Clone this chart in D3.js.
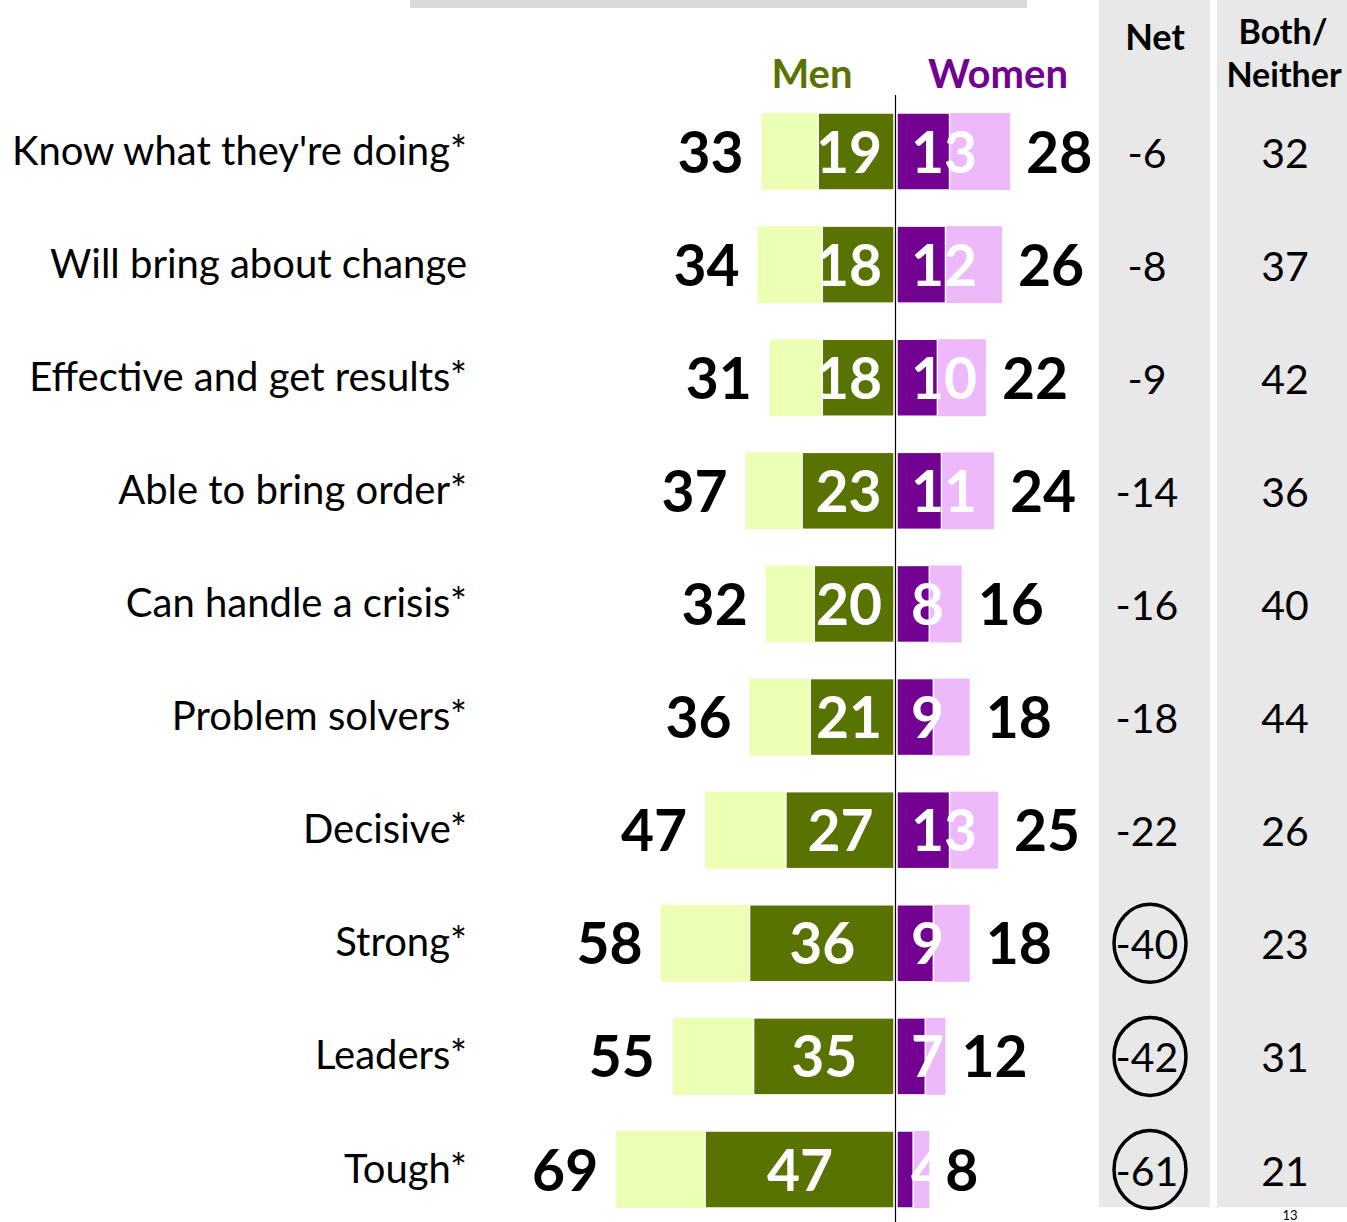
<!DOCTYPE html>
<html>
<head>
<meta charset="utf-8">
<script src="https://cdn.jsdelivr.net/npm/d3@7"></script>
<style>
  body { margin: 0; background: #fff; }
  svg { display: block; }
</style>
</head>
<body>
<svg id="chart" width="1347" height="1222"></svg>
<script>
const labels = [
  "Know what they're doing*", "Will bring about change", "Effective and get results*",
  "Able to bring order*", "Can handle a crisis*", "Problem solvers*",
  "Decisive*", "Strong*", "Leaders*", "Tough*"
];
const menTotal    = [33, 34, 31, 37, 32, 36, 47, 58, 55, 69];
const menStrong   = [19, 18, 18, 23, 20, 21, 27, 36, 35, 47];
const womenStrong = [13, 12, 10, 11, 8, 9, 13, 9, 7, 4];
const womenTotal  = [28, 26, 22, 24, 16, 18, 25, 18, 12, 8];
const netValues   = [-6, -8, -9, -14, -16, -18, -22, -40, -42, -61];
const bothNeither = [32, 37, 42, 36, 40, 44, 26, 23, 31, 21];
const circled = [-40, -42, -61];

const svg = d3.select("#chart");
const font = "Lato, 'Open Sans', sans-serif";

const x = d3.scaleLinear().domain([-70, 30]).range([612.2, 1016.2]);
const y = d3.scalePoint().domain(labels).range([151.5, 1169.5]);
const barH = 77;

const colors = {
  menLight: "#ebffb5", menDark: "#587300",
  womenDark: "#720091", womenLight: "#edb9fb"
};

// grey background pieces
svg.append("rect").attr("x", 410).attr("y", 0).attr("width", 617).attr("height", 8).attr("fill", "#d9d9d9");
svg.append("rect").attr("x", 1099).attr("y", 0).attr("width", 111).attr("height", 1207).attr("fill", "#e8e8e8");
svg.append("rect").attr("x", 1217).attr("y", 0).attr("width", 130).attr("height", 1207).attr("fill", "#e8e8e8");

// headers
svg.append("text").attr("x", 1155).attr("y", 50).attr("text-anchor", "middle")
  .style("font-family", font).style("font-weight", "bold").style("font-size", "36px").text("Net");
svg.append("text").attr("x", 1283).attr("y", 44).attr("text-anchor", "middle")
  .style("font-family", font).style("font-weight", "bold").style("font-size", "34px").text("Both/");
svg.append("text").attr("x", 1284).attr("y", 87).attr("text-anchor", "middle")
  .style("font-family", font).style("font-weight", "bold").style("font-size", "34px").text("Neither");

svg.append("text").attr("x", 812).attr("y", 88).attr("text-anchor", "middle")
  .style("font-family", font).style("font-weight", "bold").style("font-size", "40px")
  .style("fill", colors.menDark).text("Men");
svg.append("text").attr("x", 998).attr("y", 88).attr("text-anchor", "middle")
  .style("font-family", font).style("font-weight", "bold").style("font-size", "40px")
  .style("fill", colors.womenDark).text("Women");

const rows = svg.selectAll(".row")
  .data(labels)
  .enter()
  .append("g")
  .attr("class", "row")
  .attr("transform", d => `translate(0,${y(d)})`);

// row labels
rows.append("text")
  .attr("x", 467).attr("y", 13)
  .attr("text-anchor", "end")
  .style("font-family", font).style("font-size", "40px")
  .text(d => d);

// men bars
rows.append("rect")
  .attr("x", (d, i) => x(-menTotal[i]))
  .attr("y", -barH / 2)
  .attr("width", (d, i) => x(0) - x(-menTotal[i]))
  .attr("height", barH)
  .attr("fill", colors.menLight);

rows.append("rect")
  .attr("x", (d, i) => x(-menStrong[i]))
  .attr("y", -barH / 2)
  .attr("width", (d, i) => x(0) - x(-menStrong[i]) - 1)
  .attr("height", barH)
  .attr("fill", colors.menDark)
  .attr("stroke", "#fff").attr("stroke-width", 1.5);

// women bars
rows.append("rect")
  .attr("x", x(0) + 2)
  .attr("y", -barH / 2)
  .attr("width", (d, i) => x(womenTotal[i]) - x(0))
  .attr("height", barH)
  .attr("fill", colors.womenLight);

rows.append("rect")
  .attr("x", x(0) + 2)
  .attr("y", -barH / 2)
  .attr("width", (d, i) => x(womenStrong[i]) - x(0))
  .attr("height", barH)
  .attr("fill", colors.womenDark)
  .attr("stroke", "#fff").attr("stroke-width", 1.5);

// inside labels
rows.append("text")
  .attr("x", (d, i) => Math.min((x(-menStrong[i]) + x(0)) / 2, x(0) - 46))
  .attr("y", 21)
  .attr("text-anchor", "middle")
  .style("font-family", font).style("font-weight", "bold").style("font-size", "57px")
  .style("fill", "#fff")
  .text((d, i) => menStrong[i]);

rows.append("text")
  .attr("x", x(0) + 16)
  .attr("y", 21)
  .style("font-family", font).style("font-weight", "bold").style("font-size", "57px")
  .style("fill", "#fff")
  .text((d, i) => womenStrong[i]);

// outside totals
rows.append("text")
  .attr("x", (d, i) => x(-menTotal[i]) - 18)
  .attr("y", 21)
  .attr("text-anchor", "end")
  .style("font-family", font).style("font-weight", "bold").style("font-size", "57px")
  .text((d, i) => menTotal[i]);

rows.append("text")
  .attr("x", (d, i) => x(womenTotal[i]) + 18)
  .attr("y", 21)
  .style("font-family", font).style("font-weight", "bold").style("font-size", "57px")
  .text((d, i) => womenTotal[i]);

// net and both/neither
rows.append("text")
  .attr("x", 1147).attr("y", 16)
  .attr("text-anchor", "middle")
  .style("font-family", font).style("font-size", "41px")
  .text((d, i) => netValues[i]);

rows.filter((d, i) => circled.includes(netValues[i]))
  .append("ellipse")
  .attr("cx", 1150).attr("cy", 0)
  .attr("rx", 36).attr("ry", 39)
  .attr("fill", "none").attr("stroke", "#000").attr("stroke-width", 3.5);

rows.append("text")
  .attr("x", 1285).attr("y", 16)
  .attr("text-anchor", "middle")
  .style("font-family", font).style("font-size", "41px")
  .text((d, i) => bothNeither[i]);

// center line
svg.append("line")
  .attr("x1", x(0) + 0.5).attr("x2", x(0) + 0.5)
  .attr("y1", 95).attr("y2", 1222)
  .attr("stroke", "#000").attr("stroke-width", 1.2);

// page number at the bottom edge
svg.append("text").attr("x", 1290).attr("y", 1220).attr("text-anchor", "middle")
  .style("font-family", font).style("font-size", "13px").text("13");
</script>
</body>
</html>
